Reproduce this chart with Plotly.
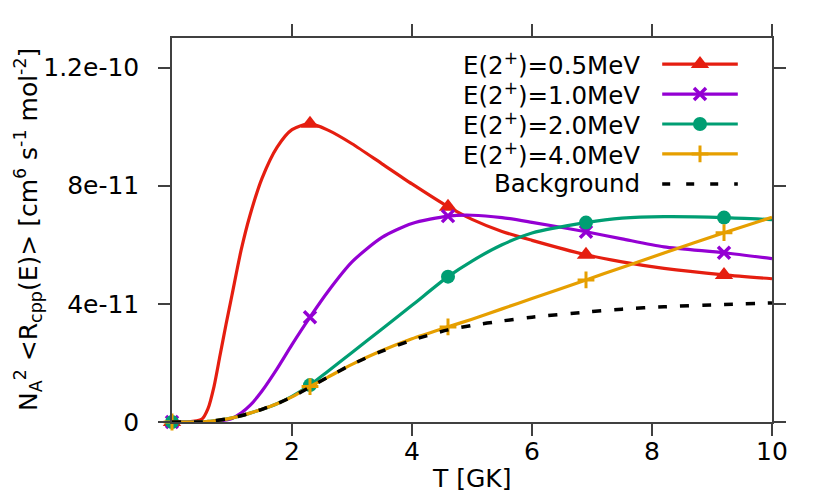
import plotly.graph_objects as go

# ── data (values in units of 1e-11 cm^6 s^-1 mol^-2) ─────────────────────────
T = [0, 0.25, 0.5, 0.6, 0.7, 0.8, 0.9, 1.0, 1.15, 1.3, 1.5, 1.75, 2.0, 2.3,
     2.6, 3.0, 3.5, 4.0, 4.6, 5.0, 5.5, 6.0, 6.9, 7.5, 8.2, 9.2, 10]

rate_05 = [0, 0, 0.1, 0.45, 1.2, 2.25, 3.3, 4.3, 5.8, 7.0, 8.25, 9.3, 9.9, 10.1,
           9.88, 9.42, 8.74, 8.06, 7.29, 6.86, 6.45, 6.15, 5.66, 5.42, 5.2, 4.98, 4.85]
rate_10 = [0, 0, 0, 0.005, 0.02, 0.04, 0.07, 0.12, 0.3, 0.56, 1.05, 1.8, 2.62, 3.55,
           4.42, 5.42, 6.25, 6.72, 6.97, 7.0, 6.92, 6.76, 6.44, 6.2, 5.93, 5.73, 5.53]
rate_20 = [0, 0, 0, 0.02, 0.04, 0.07, 0.1, 0.14, 0.21, 0.3, 0.43, 0.62, 0.87, 1.25,
           1.72, 2.35, 3.15, 3.95, 4.92, 5.45, 6.0, 6.4, 6.75, 6.9, 6.95, 6.92, 6.85]
rate_40 = [0, 0, 0, 0.02, 0.04, 0.07, 0.1, 0.14, 0.21, 0.3, 0.43, 0.62, 0.85, 1.2,
           1.52, 1.95, 2.42, 2.82, 3.22, 3.48, 3.83, 4.18, 4.81, 5.23, 5.72, 6.41, 6.93]
background = [0, 0, 0, 0.02, 0.04, 0.07, 0.1, 0.14, 0.21, 0.3, 0.43, 0.62, 0.85, 1.18,
              1.52, 1.95, 2.4, 2.77, 3.12, 3.27, 3.42, 3.55, 3.72, 3.82, 3.9, 3.98, 4.03]

MARK_T = [0, 2.3, 4.6, 6.9, 9.2]   # gnuplot pointinterval positions

labels = ["E(2<sup>+</sup>)=0.5MeV", "E(2<sup>+</sup>)=1.0MeV",
          "E(2<sup>+</sup>)=2.0MeV", "E(2<sup>+</sup>)=4.0MeV", "Background"]

x_ticks = [2, 4, 6, 8, 10]
y_ticks = [0, 4e-11, 8e-11, 1.2e-10]
y_ticktext = ["0", "4e-11", "8e-11", "1.2e-10"]

# ── styles ───────────────────────────────────────────────────────────────────
FONT = "DejaVu Sans, Verdana, sans-serif"
FS = 25
AXIS = "#404040"
SERIES = [
    (rate_05, "#e51e10", dict(symbol="triangle-up", size=16)),
    (rate_10, "#9400d3", dict(symbol="x-thin", size=12, line=dict(width=3.5, color="#9400d3"))),
    (rate_20, "#009e73", dict(symbol="circle", size=14)),
    (rate_40, "#e69f00", dict(symbol="cross-thin", size=12, line=dict(width=3, color="#e69f00"))),
]

fig = go.Figure()

for vals, col, mk in SERIES:
    y = [v * 1e-11 for v in vals]
    fig.add_trace(go.Scatter(x=T, y=y, mode="lines",
                             line=dict(color=col, width=3.2, shape="spline", smoothing=0.7),
                             showlegend=False, hoverinfo="skip"))
    mx = [t for t in T if t in MARK_T]
    my = [yy for t, yy in zip(T, y) if t in MARK_T]
    fig.add_trace(go.Scatter(x=mx, y=my, mode="markers",
                             marker=dict(color=col, **mk), cliponaxis=False,
                             showlegend=False))

fig.add_trace(go.Scatter(x=T, y=[v * 1e-11 for v in background], mode="lines",
                         line=dict(color="black", width=3.5, dash="9px,13px",
                                   shape="spline", smoothing=0.7),
                         showlegend=False))

# ── gnuplot-style key (text left, sample right) on an overlay axis ───────────
key_rows = [0.932, 0.854, 0.776, 0.698, 0.620]
for i, row in enumerate(key_rows):
    if i < 4:
        col, mk = SERIES[i][1], SERIES[i][2]
        line = dict(color=col, width=3.2)
    else:
        col, mk = "black", None
        line = dict(color="black", width=3.5, dash="8px,16px")
    fig.add_trace(go.Scatter(x=[0.817, 0.943], y=[row, row], mode="lines", line=line,
                             xaxis="x2", yaxis="y2", showlegend=False, hoverinfo="skip"))
    if mk:
        fig.add_trace(go.Scatter(x=[0.88], y=[row], mode="markers",
                                 marker=dict(color=col, **mk),
                                 xaxis="x2", yaxis="y2", showlegend=False))
    fig.add_annotation(text=labels[i], xref="paper", yref="paper", x=0.783, y=row,
                       xanchor="right", yanchor="middle", showarrow=False,
                       font=dict(size=24.5, color="black", family=FONT))

# ── axis titles ──────────────────────────────────────────────────────────────
fig.add_annotation(text="T [GK]", xref="paper", yref="paper", x=0.5, y=-0.148,
                   xanchor="center", yanchor="middle", showarrow=False,
                   font=dict(size=FS, color="black", family=FONT))
fig.add_annotation(
    text="N<sub>A</sub><sup>2</sup> &lt;R<sub>cpp</sub>(E)&gt; "
         "[cm<sup>6</sup> s<sup>-1</sup> mol<sup>-2</sup>]",
    xref="paper", yref="paper", x=-0.24, y=0.5, textangle=-90,
    xanchor="center", yanchor="middle", showarrow=False,
    font=dict(size=FS, color="black", family=FONT))

axis_common = dict(showline=True, linecolor=AXIS, linewidth=1.5, mirror="allticks",
                   ticks="outside", ticklen=12, tickwidth=1.5, tickcolor=AXIS,
                   showgrid=False, zeroline=False,
                   tickfont=dict(size=FS, color="black", family=FONT))

# the page body adds an 8px margin, so the figure is 8px smaller than the window
fig.update_layout(
    width=822, height=490,
    margin=dict(l=164, r=58, t=30, b=76),
    paper_bgcolor="white", plot_bgcolor="white",
    font=dict(family=FONT, color="black"),
    xaxis=dict(range=[0, 10], tickvals=x_ticks, ticklabelstandoff=-6, **axis_common),
    yaxis=dict(range=[0, 1.3e-10], tickvals=y_ticks, ticktext=y_ticktext,
               ticklabelstandoff=14, **axis_common),
    xaxis2=dict(overlaying="x", range=[0, 1], visible=False, fixedrange=True),
    yaxis2=dict(overlaying="y", range=[0, 1], visible=False, fixedrange=True),
    showlegend=False,
)

fig.write_html("out.html")
